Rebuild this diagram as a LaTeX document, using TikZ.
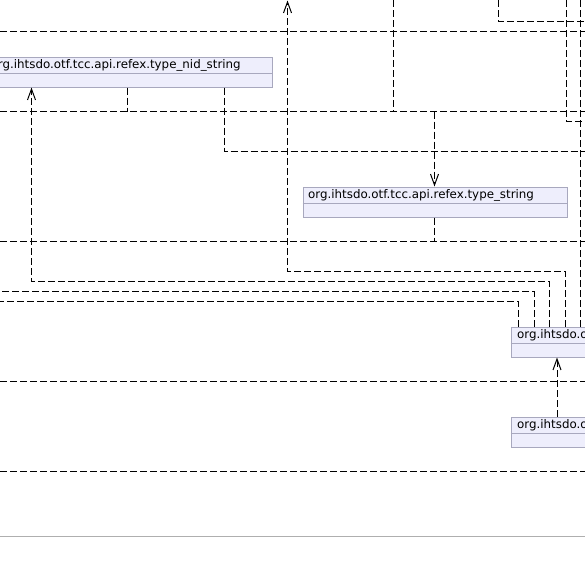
\documentclass[tikz,border=0pt]{standalone}
\usepackage{fontspec}
\setmainfont{DejaVu Sans}
\usetikzlibrary{arrows.meta}
\definecolor{boxfill}{RGB}{238,238,252}
\definecolor{boxline}{RGB}{168,168,190}
\definecolor{rulegray}{RGB}{175,175,175}
\begin{document}
\begin{tikzpicture}[x=1pt,y=-1pt,
  conn/.style={draw=black, line width=1pt, dash pattern=on 7pt off 3pt},
  openarrow/.style={-{Straight Barb[length=11pt,width=8pt,line width=1pt]}},
  classbox/.style={draw=boxline, fill=boxfill, line width=1pt, rectangle, inner sep=0pt, anchor=north west, minimum height=30pt},
  classname/.style={font=\fontsize{11.85}{14}\selectfont, anchor=west, inner sep=0pt, text=black},
  divider/.style={draw=boxline, line width=1pt},
]
\useasboundingbox (0,0) rectangle (585,573);
\clip (0,0) rectangle (585,573);

% class boxes
\node[classbox, minimum width=287pt] (nid) at (-15,56.5) {};
\draw[divider] ([yshift=-17pt]nid.north west) -- ([yshift=-17pt]nid.north east);
\node[classname] (nidname) at ([xshift=5.5pt,yshift=-8.8pt]nid.north west) {org.ihtsdo.otf.tcc.api.refex.type\_nid\_string};

\node[classbox, minimum width=264pt] (ts) at (302.5,186.5) {};
\draw[divider] ([yshift=-17pt]ts.north west) -- ([yshift=-17pt]ts.north east);
\node[classname] (tsname) at ([xshift=5.5pt,yshift=-8.8pt]ts.north west) {org.ihtsdo.otf.tcc.api.refex.type\_string};

\node[classbox, minimum width=100pt] (boxc) at (510.5,326.5) {};
\draw[divider] ([yshift=-17pt]boxc.north west) -- ([yshift=-17pt]boxc.north east);
\node[classname] (boxcname) at ([xshift=6.5pt,yshift=-8.8pt]boxc.north west) {org.ihtsdo.otf};

\node[classbox, minimum width=100pt] (boxd) at (510.5,416.5) {};
\draw[divider] ([yshift=-17pt]boxd.north west) -- ([yshift=-17pt]boxd.north east);
\node[classname] (boxdname) at ([xshift=6.5pt,yshift=-8.8pt]boxd.north west) {org.ihtsdo.otf};

% free ends
\coordinate (topA) at (287.5,0.5);
\coordinate (topB) at (393.5,0);
\coordinate (topC) at (498.5,0);
\coordinate (topD) at (566.5,0);
\coordinate (topE) at (580.5,0);
\coordinate (rightA) at (585,21.5);
\coordinate (rightB) at (585,121.5);
\coordinate (rightC) at (585,151.5);
\coordinate (leftC) at (0,291.5);
\coordinate (leftD) at (0,301.5);
\coordinate (jB) at (393.5,111.5);
\coordinate (jN) at (127.5,111.5);
\coordinate (jT) at (434.5,111.5);
\coordinate (jS) at (434.5,241.5);

% full-width dashed lines
\foreach \yy in {31.5,111.5,241.5,381.5,471.5}
  \draw[conn] (0,\yy) -- (585,\yy);

% top connectors
\draw[conn] (topB) -- (jB);
\draw[conn] (topC) |- (rightA);
\draw[conn] (topD) |- (rightB);
\draw[conn] ([xshift=70pt]boxc.north west) -- (topE);

% from nid_string
\draw[conn] ([xshift=142.5pt]nid.south west) -- (jN);
\draw[conn] ([xshift=239.5pt]nid.south west) |- (rightC);

% into / out of type_string
\draw[conn, openarrow] (jT) -- ([xshift=132pt]ts.north west);
\draw[conn] ([xshift=132pt]ts.south west) -- (jS);

% from box C upwards
\draw[conn, openarrow] ([xshift=55pt]boxc.north west) |- (287.5,271.5) -- (topA);
\draw[conn, openarrow] ([xshift=39pt]boxc.north west) |- (31.5,281.5) -- ([xshift=46.5pt]nid.south west);
\draw[conn] ([xshift=23.5pt]boxc.north west) |- (leftC);
\draw[conn] ([xshift=8pt]boxc.north west) |- (leftD);

% box D to box C
\draw[conn, openarrow] ([xshift=46.5pt]boxd.north west) -- ([xshift=46.5pt]boxc.south west);

% bottom rule
\draw[rulegray, line width=1pt] (0,536.5) -- (585,536.5);
\end{tikzpicture}
\end{document}
